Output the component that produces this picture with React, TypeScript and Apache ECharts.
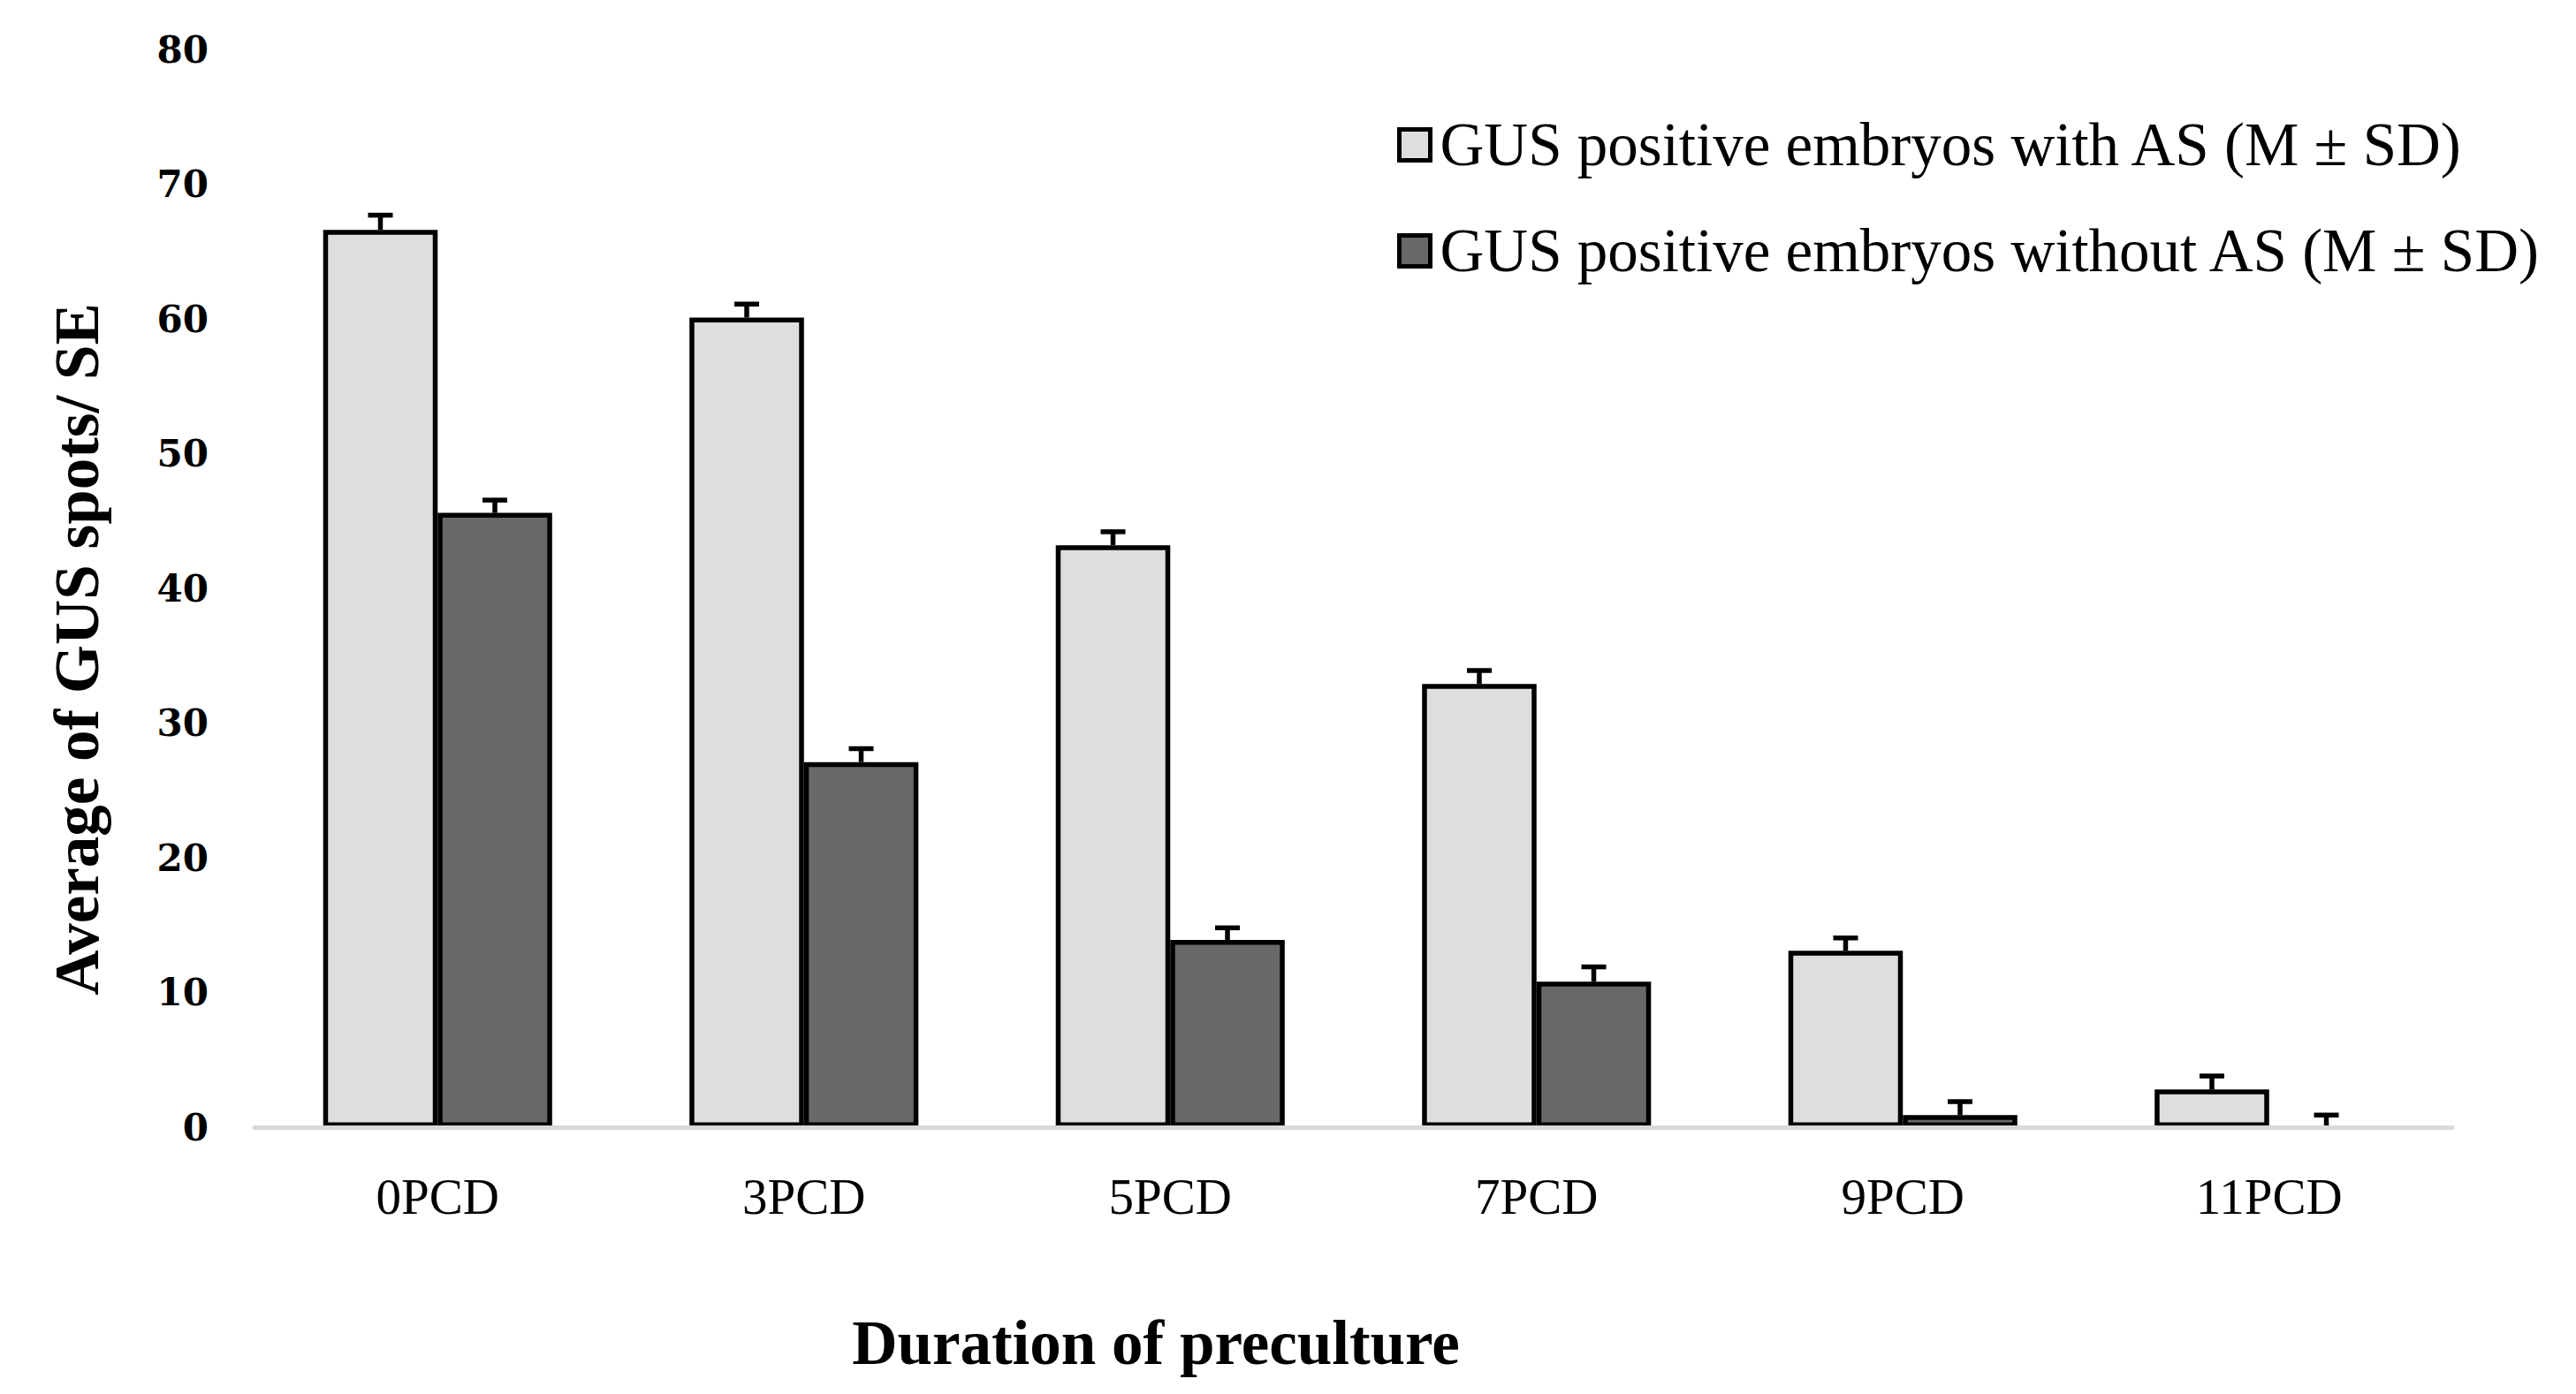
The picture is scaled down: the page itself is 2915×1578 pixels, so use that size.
import React, { useEffect, useRef } from "react";
import * as echarts from "echarts";

const categories = ["0PCD", "3PCD", "5PCD", "7PCD", "9PCD", "11PCD"];
const withAS = [66.6, 60.1, 43.2, 32.9, 13.1, 2.8];
const withASErr = [1.1, 1.0, 1.0, 1.0, 0.95, 1.0];
const withoutAS = [45.6, 27.1, 13.9, 10.8, 0.9, 0];
const withoutASErr = [0.95, 1.0, 0.9, 1.1, 1.0, 0.9];
const seriesNames = [
  "GUS positive embryos with AS (M ± SD)",
  "GUS positive embryos without AS (M ± SD)",
];
const yTicks = { min: 0, max: 80, interval: 10 };
const xTitle = "Duration of preculture";
const yTitle = "Average of GUS spots/ SE";

const SERIF = "'Liberation Serif', 'Times New Roman', serif";
const CAT_GAP = 0.375;

function errorRenderer(sign: number) {
  return (params: any, api: any) => {
    const idx = api.value(0);
    const v = api.value(1);
    const e = api.value(2);
    const base = api.coord([idx, v]);
    const top = api.coord([idx, v + e]);
    const catW = api.size([1, 0])[0];
    const bw = (catW * (1 - CAT_GAP)) / 2;
    const cx = base[0] + (sign * bw) / 2;
    const style = { stroke: "#000", lineWidth: 5.5 };
    return {
      type: "group",
      children: [
        { type: "line", shape: { x1: cx, y1: base[1], x2: cx, y2: top[1] }, style },
        { type: "line", shape: { x1: cx - 14, y1: top[1], x2: cx + 14, y2: top[1] }, style },
      ],
    };
  };
}

export default function App() {
  const ref = useRef<HTMLDivElement>(null);
  useEffect(() => {
    if (!ref.current) return;
    const chart = echarts.init(ref.current, undefined, { renderer: "svg" });
    const darkData = withoutAS.map((v) =>
      v === 0 ? { value: v, itemStyle: { borderWidth: 0 } } : v
    );
    chart.setOption({
      animation: false,
      backgroundColor: "#ffffff",
      grid: { left: 288, right: 140, top: 56, bottom: 302, containLabel: false },
      legend: {
        orient: "vertical",
        left: 1576,
        top: 124,
        itemWidth: 35,
        itemHeight: 35,
        itemGap: 50,
        icon: "rect",
        data: seriesNames,
        itemStyle: { borderColor: "#000", borderWidth: 5 },
        textStyle: {
          fontFamily: SERIF,
          fontSize: 69,
          color: "#000",
          lineHeight: 70,
          padding: [0, 0, 0, 6],
        },
      },
      xAxis: {
        type: "category",
        data: categories,
        z: 5,
        axisLine: { show: true, lineStyle: { color: "#d9d9d9", width: 5 } },
        axisTick: { show: false },
        axisLabel: { fontFamily: SERIF, fontSize: 57, color: "#000", margin: 50 },
        splitLine: { show: false },
      },
      yAxis: {
        type: "value",
        min: yTicks.min,
        max: yTicks.max,
        interval: yTicks.interval,
        axisLine: { show: false },
        axisTick: { show: false },
        splitLine: { show: false },
        axisLabel: {
          fontFamily: "'DejaVu Serif', serif",
          fontWeight: "bold",
          fontSize: 42,
          color: "#000",
          margin: 52,
        },
      },
      graphic: [
        {
          type: "text",
          x: 87,
          y: 735,
          rotation: Math.PI / 2,
          style: {
            text: yTitle,
            fontFamily: SERIF,
            fontWeight: "bold",
            fontSize: 71,
            fill: "#000",
            textAlign: "center",
            textVerticalAlign: "middle",
          },
        },
        {
          type: "text",
          x: 1308,
          y: 1520,
          style: {
            text: xTitle,
            fontFamily: SERIF,
            fontWeight: "bold",
            fontSize: 71,
            fill: "#000",
            textAlign: "center",
            textVerticalAlign: "middle",
          },
        },
      ],
      series: [
        {
          name: seriesNames[0],
          type: "bar",
          data: withAS,
          barGap: "0%",
          barCategoryGap: CAT_GAP * 100 + "%",
          itemStyle: { color: "#dfdddd", borderColor: "#000", borderWidth: 5.5 },
        },
        {
          name: seriesNames[1],
          type: "bar",
          data: darkData,
          barGap: "0%",
          barCategoryGap: CAT_GAP * 100 + "%",
          itemStyle: { color: "#686868", borderColor: "#000", borderWidth: 5.5 },
        },
        {
          type: "custom",
          name: "errWith",
          data: withAS.map((v, i) => [i, v, withASErr[i]]),
          renderItem: errorRenderer(-1),
          z: 4,
        },
        {
          type: "custom",
          name: "errWithout",
          data: withoutAS.map((v, i) => [i, v, withoutASErr[i]]),
          renderItem: errorRenderer(1),
          z: 4,
        },
      ],
    });
    return () => chart.dispose();
  }, []);
  return (
    <div
      ref={ref}
      style={{ position: "fixed", left: 0, top: 0, width: "100vw", height: "100vh", background: "#fff" }}
    />
  );
}
